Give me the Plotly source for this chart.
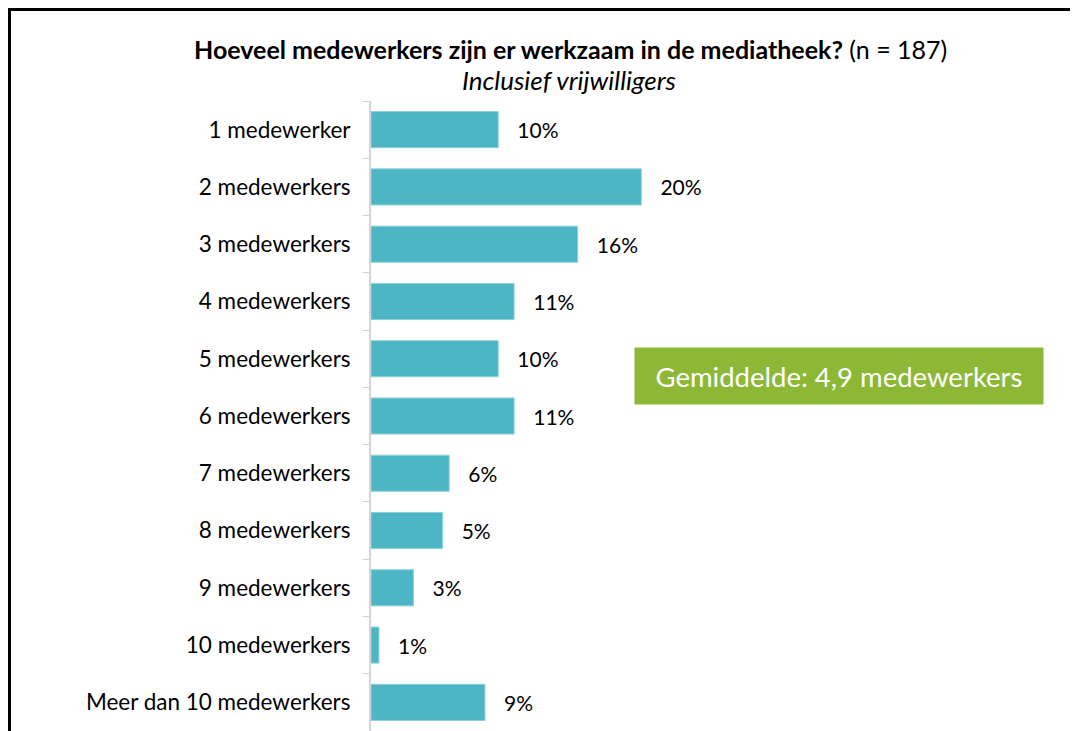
import plotly.graph_objects as go

# Survey: number of staff working in the media library (n = 187)
categories = [
    "1 medewerker", "2 medewerkers", "3 medewerkers", "4 medewerkers",
    "5 medewerkers", "6 medewerkers", "7 medewerkers", "8 medewerkers",
    "9 medewerkers", "10 medewerkers", "Meer dan 10 medewerkers",
]
# share of respondents (%)
shares = [9.6, 20.4, 15.6, 10.8, 9.6, 10.8, 5.9, 5.4, 3.2, 0.6, 8.6]
# labels as printed next to the bars
share_labels = ["10%", "20%", "16%", "11%", "10%", "11%", "6%", "5%", "3%", "1%", "9%"]

title_main = "Hoeveel medewerkers zijn er werkzaam in de mediatheek?"
title_n = "(n = 187)"
subtitle = "Inclusief vrijwilligers"
average_text = "Gemiddelde: 4,9 medewerkers"

FONT = "Lato"
BAR_COLOUR = "#4cb6c5"
GREEN = "#8cb835"

# the page body has an 8px margin: keep the figure inside the window
# and work in screen pixels
OFF = 8
W, H = 1078 - OFF, 731 - OFF
L, T = 371 - OFF, 101 - OFF
R = 18
B = 0
plot_w = W - L - R
plot_h = H - T - B


def px_x(x):
    return (x - OFF - L) / plot_w


def px_y(y):
    return (H - B - (y - OFF)) / plot_h


fig = go.Figure()
fig.add_trace(go.Bar(
    x=shares,
    y=categories,
    orientation="h",
    marker=dict(color=BAR_COLOUR, line=dict(width=1, color="#8fd0da")),
    text=["\u00a0\u00a0\u00a0" + s for s in share_labels],
    textposition="outside",
    textfont=dict(family=FONT, size=21, color="#000000"),
    cliponaxis=False,
    hoverinfo="skip",
))

fig.update_layout(
    width=W, height=H,
    margin=dict(l=L, r=R, t=T, b=B, pad=0),
    plot_bgcolor="white",
    paper_bgcolor="white",
    showlegend=False,
    bargap=0.37,
    font=dict(family=FONT, color="#000000"),
    xaxis=dict(range=[0, 52], visible=False, fixedrange=True),
    yaxis=dict(
        autorange="reversed",
        type="category",
        showline=True, linecolor="#d4d4d4", linewidth=2,
        ticks="outside", tickson="boundaries", ticklen=6,
        tickcolor="#d4d4d4", tickwidth=1,
        tickfont=dict(family=FONT, size=22.5, color="#000000"),
        ticklabelstandoff=14,
        showgrid=False,
    ),
    annotations=[
        dict(
            text=f"<b>{title_main}</b> {title_n}",
            xref="paper", yref="paper", x=px_x(570), y=px_y(49),
            xanchor="center", yanchor="middle", showarrow=False,
            font=dict(family=FONT, size=25, color="#000000"),
        ),
        dict(
            text=f"<i>{subtitle}</i>",
            xref="paper", yref="paper", x=px_x(569), y=px_y(80),
            xanchor="center", yanchor="middle", showarrow=False,
            font=dict(family=FONT, size=26, color="#000000"),
        ),
        dict(
            text=average_text,
            xref="paper", yref="paper", x=px_x(839), y=px_y(376),
            xanchor="center", yanchor="middle", showarrow=False,
            width=408, height=56, bgcolor=GREEN, borderpad=0,
            font=dict(family=FONT, size=27.5, color="white"),
        ),
    ],
    shapes=[
        # frame around the chart (top and left edges)
        dict(type="line", xref="paper", yref="paper",
             x0=px_x(8), x1=px_x(1078), y0=px_y(9.5), y1=px_y(9.5),
             line=dict(color="black", width=3)),
        dict(type="line", xref="paper", yref="paper",
             x0=px_x(9.5), x1=px_x(9.5), y0=px_y(8), y1=px_y(731),
             line=dict(color="black", width=3)),
    ],
)

fig.write_html("out.html")
